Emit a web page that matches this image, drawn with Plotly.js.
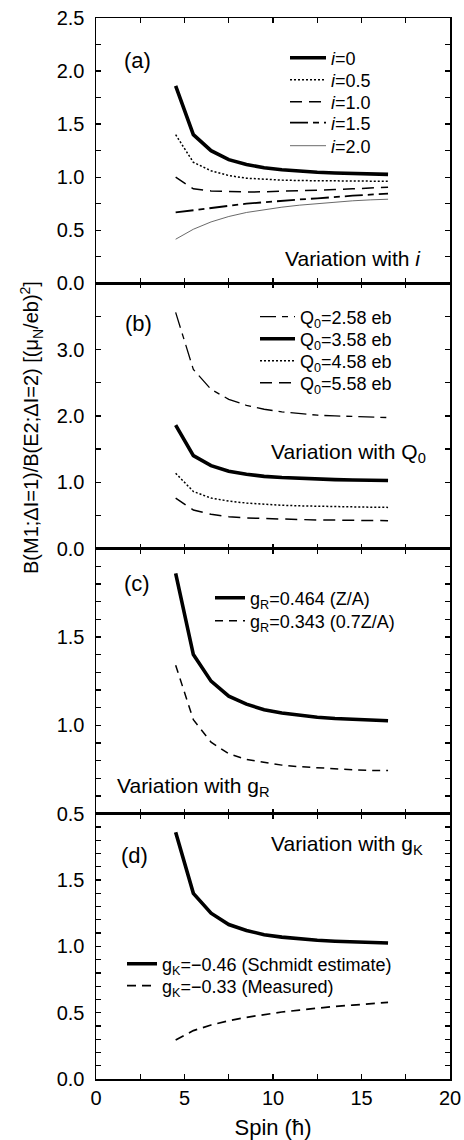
<!DOCTYPE html>
<html>
<head>
<meta charset="utf-8">
<script src="https://cdn.plot.ly/plotly-3.0.1.min.js"></script>
<style>
  html, body { margin: 0; padding: 0; background: #fff; }
  #chart { width: 464px; height: 1140px; }
</style>
</head>
<body>
<div id="chart"></div>
<script>
// Spin values (hbar) at which the ratio was calculated
const spin = [4.5, 5.5, 6.5, 7.5, 8.5, 9.5, 10.5, 11.5, 12.5, 13.5, 14.5, 15.5, 16.5];

// Reference calculation: i=0, Q0=3.58 eb, gR=0.464, gK=-0.46
const reference = [1.86, 1.40, 1.25, 1.165, 1.12, 1.088, 1.07, 1.056, 1.046, 1.039, 1.034, 1.03, 1.026];

// (a) variation with i
const iHalf    = [1.40, 1.14, 1.06, 1.015, 0.99, 0.978, 0.972, 0.968, 0.966, 0.964, 0.963, 0.962, 0.961];
const iOne     = [1.00, 0.89, 0.87, 0.862, 0.86, 0.862, 0.866, 0.871, 0.877, 0.883, 0.89, 0.897, 0.905];
const iOneHalf = [0.667, 0.69, 0.71, 0.73, 0.75, 0.765, 0.78, 0.79, 0.80, 0.815, 0.825, 0.835, 0.845];
const iTwo     = [0.415, 0.509, 0.578, 0.629, 0.667, 0.695, 0.717, 0.736, 0.752, 0.764, 0.777, 0.786, 0.792];

// (b) variation with Q0
const q258 = [3.56, 2.70, 2.40, 2.25, 2.16, 2.10, 2.06, 2.03, 2.01, 2.00, 1.99, 1.98, 1.975];
const q458 = [1.135, 0.86, 0.76, 0.715, 0.685, 0.665, 0.652, 0.643, 0.636, 0.631, 0.627, 0.623, 0.62];
const q558 = [0.76, 0.58, 0.515, 0.48, 0.46, 0.45, 0.44, 0.435, 0.43, 0.428, 0.425, 0.423, 0.42];

// (c) variation with gR
const gR0343 = [1.34, 1.032, 0.905, 0.839, 0.807, 0.789, 0.775, 0.766, 0.759, 0.753, 0.749, 0.745, 0.744];

// (d) variation with gK
const gKm033 = [0.295, 0.365, 0.407, 0.44, 0.465, 0.487, 0.505, 0.52, 0.535, 0.547, 0.557, 0.567, 0.578];

// Axis ticks
const spinTicks  = [0, 2.5, 5, 7.5, 10, 12.5, 15, 17.5, 20];
const spinLabels = ['0', '', '5', '', '10', '', '15', '', '20'];
const ticksA  = [0, 0.25, 0.5, 0.75, 1.0, 1.25, 1.5, 1.75, 2.0, 2.25, 2.5];
const labelsA = ['0.0', '', '0.5', '', '1.0', '', '1.5', '', '2.0', '', '2.5'];
const ticksB  = [0, 0.5, 1.0, 1.5, 2.0, 2.5, 3.0, 3.5, 4.0];
const labelsB = ['0.0', '', '1.0', '', '2.0', '', '3.0', '', ''];
const ticksC  = [0.5, 0.6, 0.7, 0.8, 0.9, 1.0, 1.1, 1.2, 1.3, 1.4, 1.5, 1.6, 1.7, 1.8, 1.9, 2.0];
const labelsC = ['0.5', '', '', '', '', '1.0', '', '', '', '', '1.5', '', '', '', '', ''];
const ticksD  = [0, 0.1, 0.2, 0.3, 0.4, 0.5, 0.6, 0.7, 0.8, 0.9, 1.0, 1.1, 1.2, 1.3, 1.4, 1.5, 1.6, 1.7, 1.8, 1.9, 2.0];
const labelsD = ['0.0', '', '', '', '', '0.5', '', '', '', '', '1.0', '', '', '', '', '1.5', '', '', '', '', ''];

const FONT = 'Liberation Sans, Arial, Helvetica, sans-serif';
const W = 464, H = 1140, ML = 96, MR = 14, MT = 18, MB = 61;
// pixel position on the page -> paper coordinates
const px = x => (x - ML) / (W - ML - MR);
const py = y => (H - MB - y) / (H - MT - MB);

const THICK = 3.6;
function line(x, y, name, dash, width, legend, xa, ya, color) {
  return {
    x: x, y: y, name: name, type: 'scatter', mode: 'lines',
    line: { color: color || '#000', width: width, dash: dash },
    legend: legend, xaxis: xa, yaxis: ya, hoverinfo: 'skip'
  };
}

const data = [
  // (a)
  line(spin, reference, '<i>i</i>=0', 'solid', THICK, 'legend', 'x', 'y'),
  line(spin, iHalf, '<i>i</i>=0.5', '2px,2px', 1.5, 'legend2', 'x', 'y'),
  line(spin, iOne, '<i>i</i>=1.0', '12px,7px', 1.5, 'legend3', 'x', 'y'),
  line(spin, iOneHalf, '<i>i</i>=1.5', '18px,5px,6px,5px', 1.8, 'legend4', 'x', 'y'),
  line(spin, iTwo, '<i>i</i>=2.0', 'solid', 0.8, 'legend5', 'x', 'y', '#444'),
  // (b)
  line(spin, q258, 'Q<sub>0</sub>=2.58 eb', '16px,6px,6px,6px', 1.3, 'legend6', 'x2', 'y2'),
  line(spin, reference, 'Q<sub>0</sub>=3.58 eb', 'solid', THICK, 'legend7', 'x2', 'y2'),
  line(spin, q458, 'Q<sub>0</sub>=4.58 eb', '2px,2px', 1.5, 'legend8', 'x2', 'y2'),
  line(spin, q558, 'Q<sub>0</sub>=5.58 eb', '12px,7px', 1.5, 'legend9', 'x2', 'y2'),
  // (c)
  line(spin, reference, 'g<sub>R</sub>=0.464 (Z/A)', 'solid', THICK, 'legend10', 'x3', 'y3'),
  line(spin, gR0343, 'g<sub>R</sub>=0.343 (0.7Z/A)', '8px,6px', 1.5, 'legend11', 'x3', 'y3'),
  // (d)
  line(spin, reference, 'g<sub>K</sub>=\u22120.46 (Schmidt estimate)', 'solid', THICK, 'legend12', 'x4', 'y4'),
  line(spin, gKm033, 'g<sub>K</sub>=\u22120.33 (Measured)', '9px,6px', 1.7, 'legend13', 'x4', 'y4')
];

function xAxis(anchor, showLabels) {
  return {
    domain: [0, 1], anchor: anchor, range: [0, 20],
    tickmode: 'array', tickvals: spinTicks, ticktext: spinLabels,
    showticklabels: showLabels, ticks: 'inside', ticklen: 5, tickwidth: 1.3, tickcolor: '#000',
    showline: true, linecolor: '#000', linewidth: 1.5, mirror: 'ticks',
    showgrid: false, zeroline: false,
    tickfont: { family: FONT, size: 20, color: '#000' }
  };
}
function yAxis(anchor, domain, range, vals, text) {
  return {
    domain: domain, anchor: anchor, range: range,
    tickmode: 'array', tickvals: vals, ticktext: text,
    ticks: 'inside', ticklen: 5, tickwidth: 1.3, tickcolor: '#000',
    showline: true, linecolor: '#000', linewidth: 1.5, mirror: 'ticks',
    showgrid: false, zeroline: false, ticklabelstandoff: 6,
    tickfont: { family: FONT, size: 20, color: '#000' }
  };
}
// one legend entry per box so that each row sits at its own height
function legendAt(x, y, sample) {
  return {
    x: px(x), y: py(y), xanchor: 'left', yanchor: 'middle',
    bgcolor: 'rgba(0,0,0,0)', borderwidth: 0, itemwidth: sample,
    font: { family: FONT, size: 18, color: '#000' }
  };
}
function label(x, y, text, anchor, size) {
  return {
    xref: 'paper', yref: 'paper', x: px(x), y: py(y), text: text,
    showarrow: false, xanchor: anchor || 'center', yanchor: 'middle',
    font: { family: FONT, size: size || 21, color: '#000' }
  };
}

const x4 = xAxis('y4', true);
x4.title = { text: 'Spin (\u0127)', font: { family: FONT, size: 22, color: '#000' }, standoff: 12 };

const layout = {
  width: W, height: H,
  margin: { l: ML, r: MR, t: MT, b: MB },
  paper_bgcolor: '#fff', plot_bgcolor: '#fff',
  showlegend: true,
  xaxis: xAxis('y', false),
  xaxis2: xAxis('y2', false),
  xaxis3: xAxis('y3', false),
  xaxis4: x4,
  yaxis: yAxis('x', [0.75, 1], [0, 2.5], ticksA, labelsA),
  yaxis2: yAxis('x2', [0.5, 0.75], [0, 4], ticksB, labelsB),
  yaxis3: yAxis('x3', [0.25, 0.5], [0.5, 2.0], ticksC, labelsC),
  yaxis4: yAxis('x4', [0, 0.25], [0, 2.0], ticksD, labelsD),
  legend:   legendAt(285, 58, 36),
  legend2:  legendAt(285, 80, 36),
  legend3:  legendAt(285, 102, 36),
  legend4:  legendAt(285, 123, 36),
  legend5:  legendAt(285, 146, 36),
  legend6:  legendAt(255, 317, 35),
  legend7:  legendAt(255, 339, 35),
  legend8:  legendAt(255, 361, 35),
  legend9:  legendAt(255, 383, 35),
  legend10: legendAt(210, 598, 30),
  legend11: legendAt(210, 621, 30),
  legend12: legendAt(122, 964, 30),
  legend13: legendAt(122, 986, 30),
  annotations: [
    label(137, 60, '(a)', 'center', 22),
    label(138, 323, '(b)', 'center', 22),
    label(137, 583, '(c)', 'center', 22),
    label(134, 855, '(d)', 'center', 22),
    label(423, 258, 'Variation with <i>i</i>', 'right'),
    label(428, 453, 'Variation with Q<sub>0</sub>', 'right'),
    label(115, 787, 'Variation with g<sub>R</sub>', 'left'),
    label(425, 845, 'Variation with g<sub>K</sub>', 'right'),
    {
      xref: 'paper', yref: 'paper', x: px(31), y: py(428),
      text: 'B(M1;\u0394I=1)/B(E2;\u0394I=2) [(\u03bc<sub>N</sub>/eb)<sup>2</sup>]',
      textangle: -90, showarrow: false, xanchor: 'center', yanchor: 'middle',
      font: { family: FONT, size: 20, color: '#000' }
    }
  ]
};

Plotly.newPlot('chart', data, layout, { staticPlot: true, displayModeBar: false });
</script>
</body>
</html>
